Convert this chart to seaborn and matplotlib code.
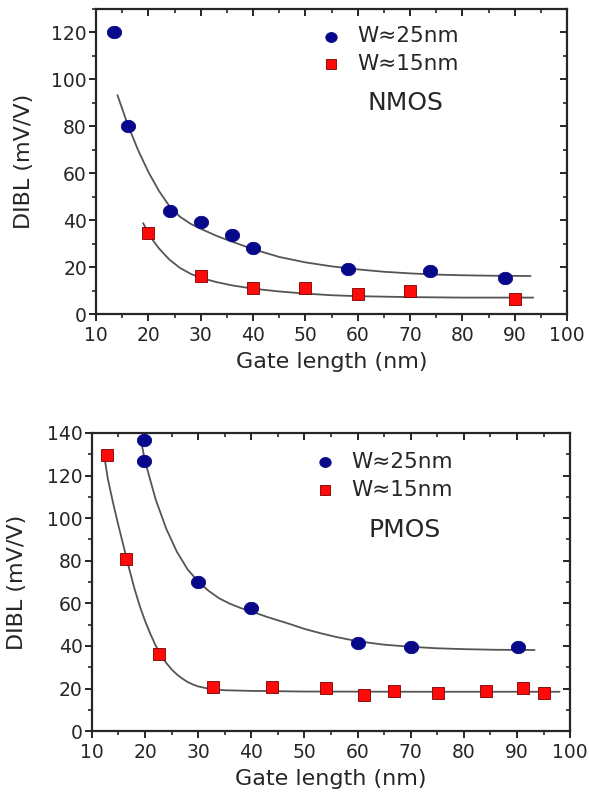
import numpy as np
import pandas as pd
import matplotlib
matplotlib.use("Agg")
import matplotlib.pyplot as plt
from matplotlib.ticker import MultipleLocator
from matplotlib.path import Path
import seaborn as sns

# ---------------- data ----------------
# NMOS
n25_x = [13.4, 16.1, 24.1, 30.0, 36.0, 40.0, 58.1, 73.8, 88.2]
n25_y = [120, 80, 44, 39, 33.5, 28.3, 19.2, 18.3, 15.3]
n15_x = [20.0, 30.0, 40.0, 50.0, 60.0, 70.0, 90.0]
n15_y = [34.5, 16, 11.2, 11.2, 8.7, 9.8, 6.5]
n25_fit_x = [14.1, 16, 18, 20, 22, 24, 26, 28, 30, 33, 36, 40, 45, 50, 55, 60, 65, 70, 75, 80, 86, 93]
n25_fit_y = [93.2, 81, 70, 60.5, 52.5, 46, 41.5, 38.5, 36.3, 33.3, 30.8, 27.6, 24.3, 22.0, 20.3, 19.0, 18.0, 17.3, 16.8, 16.5, 16.3, 16.2]
n15_fit_x = [19.0, 20, 21, 22, 24, 26, 28, 30, 33, 36, 40, 45, 50, 55, 60, 70, 80, 93.5]
n15_fit_y = [38.7, 34.5, 31.0, 28.0, 23.2, 19.7, 17.2, 15.4, 13.6, 12.2, 10.8, 9.6, 8.7, 8.0, 7.6, 7.2, 7.0, 7.0]

# PMOS
p25_x = [19.8, 19.8, 29.9, 40.0, 60.0, 70.1, 90.1]
p25_y = [136.9, 126.7, 70.2, 57.7, 41.5, 39.7, 39.7]
p15_x = [12.8, 16.5, 22.6, 32.7, 43.9, 54.0, 61.2, 66.8, 75.1, 84.1, 91.2, 95.1]
p15_y = [129.8, 80.8, 36.2, 20.6, 20.9, 20.1, 16.9, 19.0, 18.0, 19.0, 20.1, 18.0]
p25_fit_x = [19.2, 20, 22, 24, 26, 28, 30, 32, 34, 36, 38, 40, 43, 47, 50, 53, 56, 60, 65, 70, 75, 80, 86, 93.3]
p25_fit_y = [137.0, 126.8, 108.8, 95.0, 84.2, 76.0, 70.2, 65.8, 62.3, 59.8, 57.8, 56.2, 53.6, 50.5, 48.0, 46.0, 44.2, 42.2, 40.6, 39.6, 38.9, 38.5, 38.2, 38.1]
p15_fit_x = [12.4, 13, 14, 15, 16, 17, 18, 19, 20, 21, 22, 23, 24, 25, 26, 27, 28, 29, 30, 32, 35, 40, 50, 70, 98]
p15_fit_y = [128.0, 118.5, 107.0, 96.5, 86.5, 76.5, 67.0, 58.8, 51.8, 45.7, 40.2, 35.8, 32.0, 29.0, 26.6, 24.7, 23.1, 21.9, 21.0, 19.9, 19.2, 18.9, 18.6, 18.5, 18.5]

series_labels = ["W≈25nm", "W≈15nm"]
panel_titles = ["NMOS", "PMOS"]
x_label = "Gate length (nm)"
y_label = "DIBL (mV/V)"

# ---------------- style ----------------
sns.set_style("ticks")
plt.rcParams["font.family"] = ["DejaVu Sans"]
plt.rcParams["axes.linewidth"] = 1.6

BLUE = "#08088a"
RED = "#ff0a0a"
LINE = "#555555"
INK = "#262626"

# slightly wide ellipse marker (the original is horizontally stretched)
_t = np.linspace(0, 2 * np.pi, 60)
ELLIPSE = Path(np.column_stack([1.15 * np.cos(_t), np.sin(_t)]), closed=True)

fig = plt.figure(figsize=(5.89, 7.93), dpi=100)
ax1 = fig.add_axes([0.163, 0.604, 0.800, 0.385])
ax2 = fig.add_axes([0.156, 0.078, 0.812, 0.376])


def draw_panel(ax, x25, y25, x15, y15, fx25, fy25, fx15, fy15, ylim, title, title_pos,
               leg_anchor, ylabelpad):
    sns.lineplot(x=fx25, y=fy25, ax=ax, color=LINE, lw=1.3, sort=False, legend=False)
    sns.lineplot(x=fx15, y=fy15, ax=ax, color=LINE, lw=1.3, sort=False, legend=False)
    sns.scatterplot(x=x25, y=y25, ax=ax, marker=ELLIPSE, s=105, color=BLUE,
                    edgecolor=BLUE, linewidth=0.6, label=series_labels[0], zorder=3)
    sns.scatterplot(x=x15, y=y15, ax=ax, marker="s", s=80, color=RED,
                    edgecolor="#7a0000", linewidth=0.6, label=series_labels[1], zorder=3)
    ax.set_xlim(10, 100)
    ax.set_ylim(*ylim)
    ax.xaxis.set_major_locator(MultipleLocator(10))
    ax.xaxis.set_minor_locator(MultipleLocator(5))
    ax.yaxis.set_major_locator(MultipleLocator(20))
    ax.yaxis.set_minor_locator(MultipleLocator(10))
    ax.tick_params(axis="both", which="major", labelsize=13.5, length=5, width=1.4,
                   color=INK, labelcolor=INK, pad=1.5, direction="out")
    ax.tick_params(axis="x", which="major", pad=3.5)
    ax.tick_params(axis="both", which="minor", length=3, width=1.2, color=INK, direction="out")
    ax.tick_params(which="both", top=True, right=True)
    for sp in ax.spines.values():
        sp.set_color(INK)
    ax.set_xlabel(x_label, fontsize=16, color=INK, labelpad=5)
    ax.set_ylabel(y_label, fontsize=16, color=INK, labelpad=ylabelpad)
    ax.text(title_pos[0], title_pos[1], title, transform=ax.transAxes,
            ha="center", va="center", fontsize=18, color=INK)
    leg = ax.legend(loc="upper left", bbox_to_anchor=leg_anchor, frameon=False,
                    fontsize=15.5, handletextpad=0.75, labelspacing=0.35,
                    borderaxespad=0, markerscale=0.8, handlelength=1.0)
    for t in leg.get_texts():
        t.set_color(INK)
    # inward ticks on the top and right spines
    for tl in ax.xaxis.get_major_ticks() + ax.xaxis.get_minor_ticks():
        tl.tick2line.set_marker(3)
    for tl in ax.yaxis.get_major_ticks() + ax.yaxis.get_minor_ticks():
        tl.tick2line.set_marker(0)


draw_panel(ax1, n25_x, n25_y, n15_x, n15_y, n25_fit_x, n25_fit_y, n15_fit_x, n15_fit_y,
           (0, 130), panel_titles[0], (0.656, 0.69), (0.457, 0.97), 12.5)
draw_panel(ax2, p25_x, p25_y, p15_x, p15_y, p25_fit_x, p25_fit_y, p15_fit_x, p15_fit_y,
           (0, 140), panel_titles[1], (0.653, 0.675), (0.446, 0.965), 14.5)

fig.savefig("out.png", dpi=100)
